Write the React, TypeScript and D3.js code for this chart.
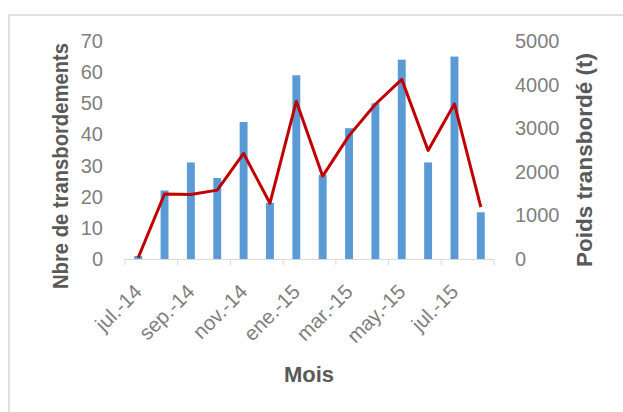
import React, { useEffect, useRef } from "react";
import * as d3 from "d3";

// months (Excel date axis, one bar per month)
const months = [
  "jul.-14", "ago.-14", "sep.-14", "oct.-14", "nov.-14", "dic.-14", "ene.-15",
  "feb.-15", "mar.-15", "abr.-15", "may.-15", "jun.-15", "jul.-15", "ago.-15",
];
// Nbre de transbordements (left axis, bars)
const transbordements = [1, 22, 31, 26, 44, 18, 59, 27, 42, 50, 64, 31, 65, 15];
// Poids transbordé en tonnes (right axis, line)
const poids = [30, 1490, 1480, 1580, 2420, 1280, 3620, 1900, 2830, 3550, 4120, 2490, 3560, 1190];

const leftTicks = [0, 10, 20, 30, 40, 50, 60, 70];
const rightTicks = [0, 1000, 2000, 3000, 4000, 5000];

const App = () => {
  const ref = useRef<SVGSVGElement>(null);

  useEffect(() => {
    const svg = d3.select(ref.current);
    svg.selectAll("*").remove();

    const width = 623;
    const height = 412;
    const left = 125, right = 494, top = 41, bottom = 259;
    const font = "'Liberation Sans', Arial, sans-serif";

    svg.attr("width", width).attr("height", height);

    // chart frame (only top/left edges are visible in the crop)
    svg.append("rect")
      .attr("x", 9).attr("y", 15)
      .attr("width", 640).attr("height", 420)
      .attr("fill", "white")
      .attr("stroke", "#d6d6d6").attr("stroke-width", 1.5);

    const x = d3.scaleBand<string>().domain(months).range([left, right])
      .paddingInner(0.7).paddingOuter(0.35);
    const step = x.step();
    const yLeft = d3.scaleLinear().domain([0, 70]).range([bottom, top]);
    const yRight = d3.scaleLinear().domain([0, 5000]).range([bottom, top]);

    // bars
    svg.append("g").selectAll("rect").data(months).join("rect")
      .attr("x", d => x(d)!)
      .attr("width", x.bandwidth())
      .attr("y", (d, i) => yLeft(transbordements[i]))
      .attr("height", (d, i) => bottom - yLeft(transbordements[i]))
      .attr("fill", "#5b9bd5");

    // x axis line + ticks every 2 months at category boundaries
    svg.append("line")
      .attr("x1", left).attr("x2", right).attr("y1", bottom + 0.5).attr("y2", bottom + 0.5)
      .attr("stroke", "#d9d9d9").attr("stroke-width", 1);
    const tickBounds = months.filter((d, i) => i % 2 === 0).map(d => x(d)! - (step - x.bandwidth()) / 2);
    tickBounds.push(right);
    svg.append("g").selectAll("line").data(tickBounds).join("line")
      .attr("x1", d => d).attr("x2", d => d)
      .attr("y1", bottom).attr("y2", bottom + 6)
      .attr("stroke", "#d9d9d9");

    // line
    const line = d3.line<number>()
      .x((d, i) => x(months[i])! + x.bandwidth() / 2)
      .y(d => yRight(d));
    svg.append("path").datum(poids)
      .attr("d", line)
      .attr("fill", "none")
      .attr("stroke", "#c00000")
      .attr("stroke-width", 3)
      .attr("stroke-linejoin", "round");

    // left tick labels
    svg.append("g").selectAll("text").data(leftTicks).join("text")
      .attr("x", 103).attr("y", d => yLeft(d))
      .attr("dy", "0.35em")
      .attr("text-anchor", "end")
      .style("font-family", font).style("font-size", "20px")
      .attr("fill", "#7f7f7f")
      .text(d => d);

    // right tick labels
    svg.append("g").selectAll("text").data(rightTicks).join("text")
      .attr("x", 515).attr("y", d => yRight(d))
      .attr("dy", "0.35em")
      .attr("text-anchor", "start")
      .style("font-family", font).style("font-size", "20px")
      .attr("fill", "#7f7f7f")
      .text(d => d);

    // x tick labels (every other month)
    svg.append("g").selectAll("text").data(months.filter((d, i) => i % 2 === 0)).join("text")
      .attr("transform", d => `translate(${x(d)! + x.bandwidth() / 2 + 5}, 293) rotate(-45)`)
      .attr("text-anchor", "end")
      .style("font-family", font).style("font-size", "20.5px")
      .attr("fill", "#7f7f7f")
      .text(d => d);

    // axis titles
    svg.append("text")
      .attr("transform", "translate(68, 166) rotate(-90)")
      .attr("text-anchor", "middle")
      .attr("textLength", 246).attr("lengthAdjust", "spacingAndGlyphs")
      .style("font-family", font).style("font-size", "22px").style("font-weight", "bold")
      .attr("fill", "#595959")
      .text("Nbre de transbordements");

    svg.append("text")
      .attr("transform", "translate(592, 160) rotate(-90)")
      .attr("text-anchor", "middle")
      .attr("textLength", 214).attr("lengthAdjust", "spacingAndGlyphs")
      .style("font-family", font).style("font-size", "22px").style("font-weight", "bold")
      .attr("fill", "#595959")
      .text("Poids transbordé (t)");

    svg.append("text")
      .attr("x", 309).attr("y", 382)
      .attr("text-anchor", "middle")
      .style("font-family", font).style("font-size", "22px").style("font-weight", "bold")
      .attr("fill", "#595959")
      .text("Mois");
  }, []);

  return (
    <svg ref={ref} style={{ position: "absolute", left: 0, top: 0, background: "white" }} />
  );
};

export default App;
